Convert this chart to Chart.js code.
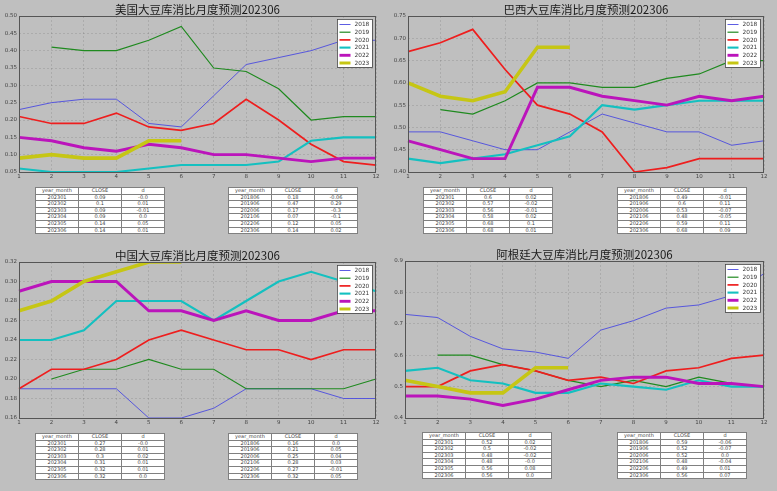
<!DOCTYPE html>
<html>
<head>
<meta charset="utf-8">
<script src="https://cdn.jsdelivr.net/npm/chart.js@4/dist/chart.umd.min.js"></script>
<style>
  html, body { margin: 0; padding: 0; }
  body { width: 777px; height: 491px; background: #bfbfbf; position: relative; overflow: hidden; }
  canvas { position: absolute; }
  table.t { position: absolute; border-collapse: collapse; table-layout: fixed; background: #fff;
            font-family: 'DejaVu Sans', sans-serif; font-size: 5px; color: #444; }
  table.t td { border: 1px solid #808080; padding: 0; height: 5.6px; line-height: 5.6px;
               text-align: center; white-space: nowrap; overflow: hidden; }
</style>
</head>
<body>
<script>
// ---------------- DATA ----------------
const months = ['1','2','3','4','5','6','7','8','9','10','11','12'];
const seriesYears = ['2018','2019','2020','2021','2022','2023'];

const us2018 = [0.23,0.25,0.26,0.26,0.19,0.18,0.27,0.36,0.38,0.40,0.43,0.43];
const us2019 = [null,0.41,0.40,0.40,0.43,0.47,0.35,0.34,0.29,0.20,0.21,0.21];
const us2020 = [0.21,0.19,0.19,0.22,0.18,0.17,0.19,0.26,0.20,0.13,0.08,0.07];
const us2021 = [0.06,0.05,0.05,0.05,0.06,0.07,0.07,0.07,0.08,0.14,0.15,0.15];
const us2022 = [0.15,0.14,0.12,0.11,0.13,0.12,0.10,0.10,0.09,0.08,0.09,0.09];
const us2023 = [0.09,0.10,0.09,0.09,0.14,0.14];

const br2018 = [0.49,0.49,0.47,0.45,0.45,0.49,0.53,0.51,0.49,0.49,0.46,0.47];
const br2019 = [null,0.54,0.53,0.56,0.60,0.60,0.59,0.59,0.61,0.62,0.65,0.65];
const br2020 = [0.67,0.69,0.72,0.63,0.55,0.53,0.49,0.40,0.41,0.43,0.43,0.43];
const br2021 = [0.43,0.42,0.43,0.44,0.46,0.48,0.55,0.54,0.55,0.56,0.56,0.56];
const br2022 = [0.47,0.45,0.43,0.43,0.59,0.59,0.57,0.56,0.55,0.57,0.56,0.57];
const br2023 = [0.60,0.57,0.56,0.58,0.68,0.68];

const cn2018 = [0.19,0.19,0.19,0.19,0.16,0.16,0.17,0.19,0.19,0.19,0.18,0.18];
const cn2019 = [null,0.20,0.21,0.21,0.22,0.21,0.21,0.19,0.19,0.19,0.19,0.20];
const cn2020 = [0.19,0.21,0.21,0.22,0.24,0.25,0.24,0.23,0.23,0.22,0.23,0.23];
const cn2021 = [0.24,0.24,0.25,0.28,0.28,0.28,0.26,0.28,0.30,0.31,0.30,0.29];
const cn2022 = [0.29,0.30,0.30,0.30,0.27,0.27,0.26,0.27,0.26,0.26,0.27,0.27];
const cn2023 = [0.27,0.28,0.30,0.31,0.32,0.32];

const ar2018 = [0.73,0.72,0.66,0.62,0.61,0.59,0.68,0.71,0.75,0.76,0.79,0.86];
const ar2019 = [null,0.60,0.60,0.57,0.55,0.52,0.50,0.52,0.50,0.53,0.51,0.50];
const ar2020 = [0.50,0.50,0.55,0.57,0.55,0.52,0.53,0.51,0.55,0.56,0.59,0.60];
const ar2021 = [0.55,0.56,0.52,0.51,0.48,0.48,0.51,0.50,0.49,0.52,0.50,0.50];
const ar2022 = [0.47,0.47,0.46,0.44,0.46,0.49,0.52,0.53,0.53,0.51,0.51,0.50];
const ar2023 = [0.52,0.50,0.48,0.48,0.56,0.56];

const tableHeaders = ['year_month','CLOSE','d'];
const usRecent = [['202301','0.09','-0.0'],['202302','0.1','0.01'],['202303','0.09','-0.01'],['202304','0.09','0.0'],['202305','0.14','0.05'],['202306','0.14','0.01']];
const usJune   = [['201806','0.18','-0.06'],['201906','0.47','0.29'],['202006','0.17','-0.3'],['202106','0.07','-0.1'],['202206','0.12','0.05'],['202306','0.14','0.02']];
const brRecent = [['202301','0.6','0.02'],['202302','0.57','-0.02'],['202303','0.56','-0.01'],['202304','0.58','0.02'],['202305','0.68','0.1'],['202306','0.68','0.01']];
const brJune   = [['201806','0.49','-0.01'],['201906','0.6','0.11'],['202006','0.53','-0.07'],['202106','0.48','-0.05'],['202206','0.59','0.11'],['202306','0.68','0.09']];
const cnRecent = [['202301','0.27','-0.0'],['202302','0.28','0.01'],['202303','0.3','0.02'],['202304','0.31','0.01'],['202305','0.32','0.01'],['202306','0.32','0.0']];
const cnJune   = [['201806','0.16','0.0'],['201906','0.21','0.05'],['202006','0.25','0.04'],['202106','0.28','0.03'],['202206','0.27','-0.01'],['202306','0.32','0.05']];
const arRecent = [['202301','0.52','0.02'],['202302','0.5','-0.02'],['202303','0.48','-0.02'],['202304','0.48','-0.0'],['202305','0.56','0.08'],['202306','0.56','0.0']];
const arJune   = [['201806','0.59','-0.06'],['201906','0.52','-0.07'],['202006','0.52','0.0'],['202106','0.48','-0.04'],['202206','0.49','0.01'],['202306','0.56','0.07']];

const usTitle = '美国大豆库消比月度预测202306';
const brTitle = '巴西大豆库消比月度预测202306';
const cnTitle = '中国大豆库消比月度预测202306';
const arTitle = '阿根廷大豆库消比月度预测202306';

const usTicks = {min:0.05, max:0.50, step:0.05, dec:2};
const brTicks = {min:0.40, max:0.75, step:0.05, dec:2};
const cnTicks = {min:0.16, max:0.32, step:0.02, dec:2};
const arTicks = {min:0.4,  max:0.9,  step:0.1,  dec:1};

// ---------------- STYLE ----------------
const lineColors = ['#4b4be0','#1f8a1f','#ee1e1e','#14c0c0','#bb14bb','#c6c614'];
const lineWidths = [0.9, 1.2, 1.7, 2.1, 2.9, 3.6];

const decorPlugin = {
  id: 'decor',
  afterDraw(chart, args, opts) {
    const ctx = chart.ctx, ca = chart.chartArea;
    ctx.save();
    ctx.strokeStyle = '#555';
    ctx.lineWidth = 1;
    ctx.strokeRect(Math.round(ca.left)+0.5, Math.round(ca.top)+0.5, Math.round(ca.right-ca.left)-1, Math.round(ca.bottom-ca.top));
    ctx.fillStyle = '#1a1a1a';
    ctx.font = '11.5px "Noto Sans CJK SC", sans-serif';
    ctx.textAlign = 'center';
    ctx.textBaseline = 'alphabetic';
    ctx.fillText(opts.title, (ca.left + ca.right) / 2, ca.top - 2);
    const w = 35, h = 48;
    const lx = ca.right - 4 - w, ly = ca.top + 3;
    ctx.fillStyle = '#fff';
    ctx.fillRect(lx, ly, w, h);
    ctx.strokeStyle = '#444';
    ctx.lineWidth = 0.8;
    ctx.strokeRect(lx + 0.5, ly + 0.5, w, h);
    ctx.font = '5.8px "DejaVu Sans", sans-serif';
    ctx.textAlign = 'left';
    ctx.textBaseline = 'middle';
    chart.data.datasets.forEach((ds, i) => {
      const y = ly + 5.5 + i * 7.7;
      ctx.strokeStyle = ds.borderColor;
      ctx.lineWidth = Math.min(ds.borderWidth, 3);
      ctx.beginPath();
      ctx.moveTo(lx + 2.5, y);
      ctx.lineTo(lx + 13.5, y);
      ctx.stroke();
      ctx.fillStyle = '#333';
      ctx.fillText(ds.label, lx + 17.5, y + 0.3);
    });
    ctx.restore();
  }
};

function makePanel(box, area, series, tk, title) {
  const c = document.createElement('canvas');
  c.width = box.w; c.height = box.h;
  c.style.left = box.x + 'px'; c.style.top = box.y + 'px';
  c.style.width = box.w + 'px'; c.style.height = box.h + 'px';
  document.body.appendChild(c);
  const yW = area.l - box.x;
  const xH = box.y + box.h - area.b;
  const tickFont = { size: 5.5, family: 'DejaVu Sans' };
  new Chart(c, {
    type: 'line',
    data: {
      labels: months,
      datasets: series.map((vals, i) => ({
        label: seriesYears[i],
        data: vals,
        borderColor: lineColors[i],
        backgroundColor: lineColors[i],
        borderWidth: lineWidths[i],
        pointRadius: 0,
        tension: 0,
        fill: false,
        spanGaps: false,
        order: series.length - 1 - i
      }))
    },
    options: {
      responsive: false,
      animation: false,
      devicePixelRatio: 1,
      layout: { padding: { left: 0, top: area.t - box.y, right: box.x + box.w - area.r, bottom: 0 } },
      plugins: { legend: { display: false }, title: { display: false }, tooltip: { enabled: false },
                 decor: { title: title } },
      scales: {
        x: {
          type: 'category', offset: false,
          grid: { color: 'rgba(0,0,0,0.13)', lineWidth: 0.8, drawTicks: false },
          border: { display: false, dash: [2, 2] },
          ticks: { font: tickFont, color: '#444', padding: 1.5, maxRotation: 0, autoSkip: false },
          afterFit(s) { s.height = xH; }
        },
        y: {
          min: tk.min, max: tk.max,
          grid: { color: 'rgba(0,0,0,0.13)', lineWidth: 0.8, drawTicks: false },
          border: { display: false, dash: [2, 2] },
          ticks: { stepSize: tk.step, font: tickFont, color: '#444', padding: 2,
                   callback: v => Number(v).toFixed(tk.dec) },
          afterFit(s) { s.width = yW; }
        }
      }
    },
    plugins: [decorPlugin]
  });
}

function makeTable(rows, x, y) {
  const t = document.createElement('table');
  t.className = 't';
  t.style.left = x + 'px'; t.style.top = y + 'px'; t.style.width = '130px';
  const all = [tableHeaders].concat(rows);
  all.forEach(r => {
    const tr = document.createElement('tr');
    r.forEach(v => { const td = document.createElement('td'); td.textContent = v; tr.appendChild(td); });
    t.appendChild(tr);
  });
  document.body.appendChild(t);
}

makePanel({x:0,   y:0,   w:387, h:182}, {l:19,  t:16,  r:376, b:172}, [us2018,us2019,us2020,us2021,us2022,us2023], usTicks, usTitle);
makePanel({x:387, y:0,   w:390, h:182}, {l:408, t:16,  r:764, b:172}, [br2018,br2019,br2020,br2021,br2022,br2023], brTicks, brTitle);
makePanel({x:0,   y:245, w:387, h:182}, {l:19,  t:262, r:376, b:418}, [cn2018,cn2019,cn2020,cn2021,cn2022,cn2023], cnTicks, cnTitle);
makePanel({x:387, y:245, w:390, h:182}, {l:405, t:261, r:764, b:418}, [ar2018,ar2019,ar2020,ar2021,ar2022,ar2023], arTicks, arTitle);

makeTable(usRecent, 35, 187);  makeTable(usJune, 228, 187);
makeTable(brRecent, 423, 187); makeTable(brJune, 617, 187);
makeTable(cnRecent, 35, 433);  makeTable(cnJune, 228, 433);
makeTable(arRecent, 422, 432); makeTable(arJune, 617, 432);
</script>
</body>
</html>
